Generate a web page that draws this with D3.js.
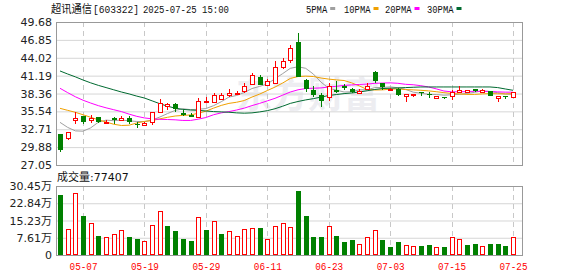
<!DOCTYPE html>
<html lang="zh">
<head>
<meta charset="UTF-8">
<title>超讯通信 日K</title>
<script src="https://d3js.org/d3.v7.min.js"></script>
<style>
    body { margin: 0; background: #fff; }
    svg { display: block; }
</style>
</head>
<body>
<svg width="578" height="276"></svg>
<script>
    // trading days shown
    var dates = ["04-29","04-30","05-06","05-07","05-08","05-09","05-12","05-13","05-14","05-15",
        "05-16","05-19","05-20","05-21","05-22","05-23","05-26","05-27","05-28","05-29",
        "05-30","06-03","06-04","06-05","06-06","06-09","06-10","06-11","06-12","06-13",
        "06-16","06-17","06-18","06-19","06-20","06-23","06-24","06-25","06-26","06-27",
        "06-30","07-01","07-02","07-03","07-04","07-07","07-08","07-09","07-10","07-11",
        "07-14","07-15","07-16","07-17","07-18","07-21","07-22","07-23","07-24","07-25"];

    var opens = [31.91,31.28,34.12,34.76,34.12,34.65,33.7,34.44,34.22,34.44,
        33.6,33.4,33.9,35.39,36.45,36.7,35.33,35.0,34.6,37.1,
        37.02,37.55,38.08,38.3,38.72,39.87,40.93,39.76,40.08,42.61,
        43.67,46.52,40.5,38.92,38.18,37.86,38.92,39.55,39.13,38.4,
        39.13,41.77,39.98,38.92,39.03,38.02,38.12,38.6,38.23,37.7,
        37.8,38.02,38.66,38.66,39.08,38.66,38.76,37.7,37.93,37.8];
    var highs = [31.95,32.3,35.39,34.8,34.97,34.7,34.1,34.65,34.76,34.76,
        33.8,33.9,35.4,37.5,36.87,36.8,35.7,35.2,37.66,37.77,
        38.5,38.4,39.1,38.8,39.98,41.66,41.34,40.71,43.56,43.98,
        46.04,47.99,40.6,39.55,38.4,39.98,40.3,39.87,39.2,39.03,
        39.98,41.9,40.1,39.2,39.24,38.3,38.3,38.66,38.66,38.02,
        37.86,38.97,39.5,38.9,39.1,39.08,38.8,38.0,38.0,38.6];
    var lows = [29.06,30.96,33.5,33.5,33.7,33.7,33.5,33.6,34.1,33.6,
        32.96,33.2,33.4,35.3,35.7,35.4,34.8,34.6,34.5,36.9,
        36.8,37.3,37.86,38.18,38.5,39.66,39.66,39.66,39.87,42.29,
        43.24,41.0,38.6,37.86,36.28,37.13,38.4,38.92,38.4,38.3,
        39.0,39.98,38.92,38.8,37.97,37.08,37.8,37.93,37.7,37.5,
        37.5,37.4,38.45,38.6,38.55,38.55,37.93,37.08,37.5,37.7];
    var closes = [29.43,32.23,34.54,33.9,34.54,33.9,33.85,34.12,34.44,33.9,
        33.4,33.7,35.39,36.82,36.66,35.87,35.0,34.7,37.13,37.2,
        38.18,38.08,38.4,38.4,39.55,41.34,39.76,40.3,42.61,43.56,
        45.52,41.03,39.03,38.08,37.13,39.55,38.66,39.24,38.6,38.72,
        39.55,40.4,39.35,39.03,38.08,38.23,38.23,38.5,38.12,37.93,
        37.7,38.55,38.87,38.87,38.76,38.87,38.02,37.93,37.8,38.55];

    // volume in 万 shares, and up(1)/down(0) colour of each volume bar
    var volumes = [26.5,11.3,27.2,17.2,14.1,8.4,7.8,9.1,10.9,7.9,
        7.1,6.2,13.1,19.4,12.8,10.6,7.1,6.2,16.6,11.0,
        14.9,9.3,10.4,8.2,11.3,11.9,11.9,7.1,12.7,14.0,
        12.2,28.2,17.2,7.9,7.9,12.7,8.4,5.7,6.6,4.7,
        7.8,10.9,6.6,3.5,5.7,4.4,4.0,4.0,4.4,3.5,
        3.5,7.9,7.1,4.4,4.9,4.0,4.9,4.9,4.0,7.7407];
    var volUp = [0,1,1,0,1,0,1,1,1,0,
        0,1,1,1,0,0,0,0,1,0,
        1,0,1,1,1,1,0,1,1,1,
        1,0,0,0,0,1,0,0,0,1,
        1,1,0,0,0,1,1,0,0,1,
        0,1,1,0,0,1,0,0,0,1];

    var ma5 = [33.8,33.0,32.45,32.4,32.93,33.82,34.15,34.06,34.17,34.04,
        33.94,33.91,34.17,34.64,35.19,35.69,35.95,35.81,35.87,35.98,
        36.44,37.06,37.8,38.05,38.52,39.15,39.49,39.87,40.71,41.51,
        42.35,42.6,42.35,41.44,40.16,39.2,38.9,38.6,38.64,38.95,
        38.95,39.3,39.32,39.41,39.28,39.02,38.58,38.41,38.23,38.2,
        38.1,38.16,38.23,38.38,38.55,38.78,38.68,38.49,38.28,38.23];
    var ma10 = [36.02,35.7,35.39,35.0,34.6,34.2,33.85,33.5,33.3,33.35,
        33.7,33.95,34.08,34.35,34.6,34.8,34.9,34.97,35.24,35.57,
        36.05,36.48,36.8,36.98,37.25,37.8,38.27,38.83,39.38,40.02,
        40.75,41.05,41.11,41.05,40.82,40.64,40.52,40.42,40.04,39.56,
        39.0,38.92,38.94,39.05,39.1,38.99,38.94,38.87,38.78,38.65,
        38.5,38.37,38.3,38.22,38.22,38.3,38.35,38.32,38.3,38.35];
    var ma20 = [39.19,38.5,37.85,37.3,36.85,36.44,36.1,35.8,35.5,35.1,
        34.75,34.5,34.35,34.28,34.25,34.2,34.1,34.1,34.3,34.56,
        35.0,35.3,35.5,35.75,36.05,36.45,36.8,37.2,37.6,38.1,
        38.6,38.95,39.15,39.2,39.25,39.4,39.5,39.65,39.72,39.8,
        39.86,39.97,40.02,40.05,39.98,39.82,39.75,39.6,39.4,39.1,
        38.76,38.63,38.63,38.67,38.72,38.71,38.68,38.62,38.58,38.57];
    var ma30 = [41.93,41.45,41.0,40.5,40.05,39.65,39.3,38.95,38.6,38.3,
        37.95,37.65,37.2,36.75,36.35,36.05,35.85,35.75,35.7,35.6,
        35.5,35.45,35.4,35.3,35.25,35.3,35.45,35.65,35.95,36.35,
        36.8,37.1,37.35,37.55,37.8,38.05,38.2,38.35,38.45,38.6,
        38.8,39.0,39.15,39.2,39.25,39.3,39.35,39.4,39.4,39.4,
        39.4,39.4,39.4,39.4,39.4,39.4,39.4,39.3,39.08,38.87];

    var tickDates = ["05-07","05-19","05-29","06-11","06-23","07-03","07-15","07-25"];
    var priceTicks = [49.68,46.85,44.02,41.19,38.36,35.54,32.71,29.88,27.05];
    var volTicks = [30.45,22.84,15.23,7.61,0];
    var maNames = ["5PMA","10PMA","20PMA","30PMA"];

    var RED = "#ff0000", GREEN = "#008000";
    var maColors = ["#a0a0a0", "#f0a000", "#ff00ff", "#006a30"];

    var svg = d3.select("svg");
    var pLeft = 56, pRight = 522, pTop = 22, pBottom = 165, vTop = 186, vBottom = 255;
    var mono = "'Liberation Mono', 'DejaVu Sans Mono', monospace";
    var cjk = "'Noto Sans CJK SC', sans-serif";

    var x = d3.scalePoint().domain(dates).range([60, 513]);
    var y = d3.scaleLinear().domain([27.05, 49.68]).range([pBottom, pTop]);
    var yv = d3.scaleLinear().domain([0, 30.45]).range([vBottom, vTop]);
    function cx(i) { return Math.round(x(dates[i])); }

    svg.append("rect").attr("width", 578).attr("height", 276).attr("fill", "#fff");

    // faint watermark
    svg.append("text")
        .attr("x", 236).attr("y", 108)
        .attr("font-family", cjk).attr("font-weight", "bold").attr("font-size", 36)
        .attr("fill", "#ededf1")
        .text("东方财富");

    // price axis + horizontal grid
    var gy = svg.append("g")
        .attr("transform", "translate(" + pLeft + ",0)")
        .call(d3.axisLeft(y).tickValues(priceTicks).tickFormat(d3.format(".2f"))
            .tickSizeInner(-(pRight - pLeft)).tickSizeOuter(0).tickPadding(4));
    gy.select(".domain").remove();
    gy.selectAll(".tick line").attr("stroke", "#d6d6d6");
    gy.selectAll(".tick text").attr("font-family", "'DejaVu Sans', sans-serif")
        .attr("font-size", 11).attr("fill", "#222");

    // volume axis + grid
    var gv = svg.append("g")
        .attr("transform", "translate(" + pLeft + ",0)")
        .call(d3.axisLeft(yv).tickValues(volTicks)
            .tickFormat(function (d) { return d === 0 ? "0" : d.toFixed(2) + "万"; })
            .tickSizeInner(-(pRight - pLeft)).tickSizeOuter(0).tickPadding(4));
    gv.select(".domain").remove();
    gv.selectAll(".tick line").attr("stroke", "#d6d6d6");
    gv.selectAll(".tick text").attr("font-family", "'DejaVu Sans', 'Noto Sans CJK SC', sans-serif")
        .attr("font-size", 11).attr("fill", "#222");

    // dashed vertical grid in both panels
    [[pTop, pBottom], [vTop, vBottom]].forEach(function (p) {
        svg.append("g").selectAll("line")
            .data(tickDates)
            .join("line")
            .attr("x1", function (d) { return Math.round(x(d)) + 0.5; })
            .attr("x2", function (d) { return Math.round(x(d)) + 0.5; })
            .attr("y1", p[0]).attr("y2", p[1])
            .attr("stroke", "#c8c8c8")
            .attr("stroke-dasharray", "5,4");
    });

    // date labels
    var gx = svg.append("g")
        .attr("transform", "translate(0," + vBottom + ")")
        .call(d3.axisBottom(x).tickValues(tickDates).tickSize(0).tickPadding(7));
    gx.select(".domain").remove();
    gx.selectAll(".tick text").attr("font-family", mono).attr("font-size", 11)
        .attr("fill", RED).attr("textLength", 28).attr("lengthAdjust", "spacingAndGlyphs");

    // moving averages
    var mas = [ma5, ma10, ma20, ma30];
    var line = d3.line()
        .x(function (d, i) { return x(dates[i]); })
        .y(function (d) { return y(d); });
    mas.forEach(function (m, k) {
        svg.append("path")
            .attr("d", line(m))
            .attr("fill", "none")
            .attr("stroke", maColors[k])
            .attr("stroke-width", 1);
    });

    // candles
    var idx = d3.range(dates.length);
    var gc = svg.append("g");
    gc.selectAll("line")
        .data(idx)
        .join("line")
        .attr("x1", function (i) { return cx(i) + 0.5; })
        .attr("x2", function (i) { return cx(i) + 0.5; })
        .attr("y1", function (i) { return Math.round(y(highs[i])); })
        .attr("y2", function (i) { return Math.round(y(lows[i])); })
        .attr("stroke", function (i) { return closes[i] >= opens[i] ? RED : GREEN; });
    gc.selectAll("rect")
        .data(idx)
        .join("rect")
        .each(function (i) {
            var up = closes[i] >= opens[i];
            var yt = Math.round(y(Math.max(opens[i], closes[i])));
            var yb = Math.round(y(Math.min(opens[i], closes[i])));
            var r = d3.select(this);
            if (up) {
                r.attr("x", cx(i) - 1.5).attr("width", 4)
                    .attr("y", yt + 0.5).attr("height", Math.max(yb - yt, 1))
                    .attr("fill", "#fff").attr("stroke", RED);
            } else {
                r.attr("x", cx(i) - 2).attr("width", 5)
                    .attr("y", yt).attr("height", Math.max(yb - yt, 1))
                    .attr("fill", GREEN);
            }
        });

    // volume bars
    svg.append("g").selectAll("rect")
        .data(idx)
        .join("rect")
        .each(function (i) {
            var yt = Math.round(yv(volumes[i]));
            var r = d3.select(this);
            if (volUp[i]) {
                r.attr("x", cx(i) - 1.5).attr("width", 4)
                    .attr("y", yt + 0.5).attr("height", vBottom - yt - 1)
                    .attr("fill", "#fff").attr("stroke", RED);
            } else {
                r.attr("x", cx(i) - 2).attr("width", 5)
                    .attr("y", yt).attr("height", vBottom - yt)
                    .attr("fill", GREEN);
            }
        });

    // panel borders
    [[pTop, pBottom], [vTop, vBottom]].forEach(function (p) {
        svg.append("rect")
            .attr("x", pLeft + 0.5).attr("y", p[0] + 0.5)
            .attr("width", pRight - pLeft).attr("height", p[1] - p[0])
            .attr("fill", "none").attr("stroke", "#999");
    });

    // title
    var t = svg.append("text").attr("y", 13).attr("fill", "#111");
    t.append("tspan").attr("x", 51).attr("font-family", cjk).attr("font-size", 11)
        .attr("textLength", 41).attr("lengthAdjust", "spacingAndGlyphs").text("超讯通信");
    t.append("tspan").attr("x", 93).attr("font-family", mono).attr("font-size", 11)
        .attr("textLength", 46).attr("lengthAdjust", "spacingAndGlyphs").text("[603322]");
    t.append("tspan").attr("x", 143).attr("font-family", mono).attr("font-size", 11)
        .attr("textLength", 86).attr("lengthAdjust", "spacingAndGlyphs").text("2025-07-25 15:00");

    // legend
    var legX = [306, 344, 385, 427];
    maNames.forEach(function (n, k) {
        svg.append("text")
            .attr("x", legX[k]).attr("y", 12.5)
            .attr("font-family", mono).attr("font-size", 11).attr("fill", "#111")
            .attr("textLength", n.length * 5.3).attr("lengthAdjust", "spacingAndGlyphs")
            .text(n);
        svg.append("rect")
            .attr("x", legX[k] + n.length * 5.3 + 3).attr("y", 7)
            .attr("width", 5).attr("height", 3)
            .attr("fill", maColors[k]);
    });

    // volume caption
    var vc = svg.append("text").attr("x", 57).attr("y", 181).attr("fill", "#111").attr("font-size", 11);
    vc.append("tspan").attr("font-family", cjk).text("成交量");
    vc.append("tspan").attr("font-family", "'DejaVu Sans', sans-serif")
        .text(":" + Math.round(volumes[volumes.length - 1] * 10000));
</script>
</body>
</html>
